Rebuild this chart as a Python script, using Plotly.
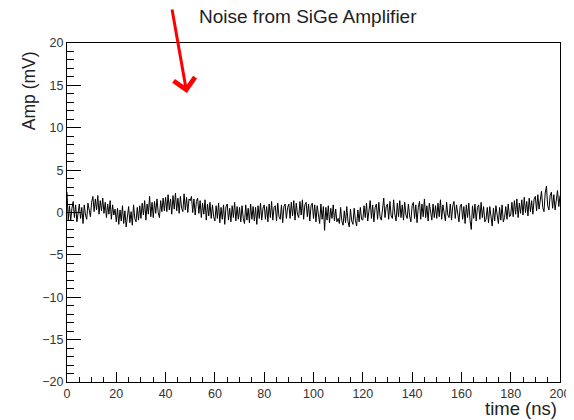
import plotly.graph_objects as go

# sampled noise trace, 0.5 ns per sample
SAMPLE_STEP_NS = 0.5
amp_mv = [
    2.4, -0.9, 0.8, -1.0, 0.5, 1.3, -0.6, 0.9, -1.1, 0.3, 1.0, -0.7, 0.6, -1.3, 0.9, -0.3, -0.8, 1.1, 0.4, -0.5,
    1.2, 1.9, 0.1, 1.6, 0.3, 2.0, -0.2, 1.4, 0.2, 1.7, -0.1, 1.2, -0.6, 1.0, -0.2, 1.4, -0.8, 0.9, -0.3, 0.4,
    -1.1, 0.5, -1.4, 0.3, -1.0, 0.8, -1.3, 0.2, -1.7, -0.2, 0.7, -1.2, 0.1, -1.5, 0.9, -0.7, -1.1, 0.6, -0.9, 0.8,
    -0.7, 1.1, -0.3, 1.4, -0.9, 1.0, -0.2, 1.9, -0.5, 1.2, -0.6, 1.3, -0.1, 1.6, 0.0, -0.6, 1.4, 0.1, 1.7, 0.2,
    1.8, 0.1, 2.1, 0.3, 1.6, -0.2, 2.0, 0.4, 2.3, 0.2, 1.7, -0.1, 1.9, 0.5, 0.1, 2.2, 0.3, 1.8, 0.0, 1.6,
    1.4, 1.9, 0.0, 1.6, -0.3, 1.3, 1.7, -0.1, 1.4, -0.6, 1.1, -0.2, 1.5, -0.9, 1.0, -0.4, 1.2, -0.7, 0.9, -0.5,
    -1.0, 0.8, -0.7, 1.1, -1.2, 0.6, -0.8, 0.9, -1.4, 0.7, 1.0, -0.9, 0.5, -1.1, 0.8, -0.6, 1.2, -1.0, 0.7, -0.8,
    0.6, -1.1, 0.8, -0.7, -1.3, 0.9, -0.9, 0.5, -1.2, 1.0, -0.8, 0.7, -1.0, 0.6, -1.4, 0.8, -0.7, 1.1, -0.9, 0.5,
    0.9, -0.8, 0.7, -1.1, 1.0, -0.6, 1.3, -0.9, 0.6, 0.8, -1.0, 1.1, -0.5, -0.8, 0.9, -1.2, 0.7, 1.0, -0.7, 0.6,
    1.0, -0.7, 1.2, -0.4, 1.4, -0.9, 1.1, -0.2, -0.6, 1.3, -0.3, 1.5, -0.8, 0.9, 1.2, -0.5, 1.0, -1.0, 0.8, 1.1,
    -0.7, 0.9, -1.1, 0.8, -0.5, -1.3, 1.0, -0.8, 0.7, -2.1, 0.6, -0.9, 0.8, -1.2, 0.5, -0.7, 0.9, -1.0, 0.4, -1.1,
    -0.7, -1.3, 0.6, -1.0, -1.5, 0.2, -1.2, 0.7, -1.1, -1.7, 0.4, -1.0, -1.4, 0.5, -0.9, -1.6, 0.3, -1.1, 0.6, -0.8,
    -0.9, 0.8, -0.6, 1.1, -1.0, 0.7, 1.4, -0.7, 0.9, -1.1, 0.6, 1.0, -0.8, 1.2, -0.5, -0.9, 0.8, 1.7, -0.6, 0.7,
    1.0, -0.8, 1.3, -0.4, -0.7, 1.5, -0.2, -1.0, 1.1, -0.5, 1.4, -0.6, 0.9, -0.9, 1.2, -0.3, -0.7, 1.0, -0.4, -1.1,
    0.8, 1.2, -0.7, 0.9, -1.2, 0.6, 1.3, -0.8, 1.0, -0.5, 1.6, -0.6, 0.8, -1.0, 1.1, -0.3, -0.9, 1.0, -0.6, 0.8,
    -0.7, 1.1, -0.5, 1.5, -0.8, 0.9, -0.4, -1.0, 1.2, -0.3, -0.6, 1.0, -0.9, 0.8, 1.3, -0.7, 0.9, -0.5, -1.1, 0.7,
    1.0, -0.8, 0.7, -1.3, 0.9, -0.6, 1.1, -0.9, -2.0, 0.8, -0.7, 1.0, -1.0, 0.6, 0.9, -0.8, 1.2, -0.6, 0.7, -1.1,
    -0.8, 0.6, -1.2, 0.7, -0.9, -1.6, 0.5, -1.0, 0.8, -0.7, -1.3, 0.6, -0.9, 0.9, -1.1, -0.6, 0.7, -0.8, 1.0, -0.5,
    -0.3, 1.2, -0.5, 1.4, -0.2, 1.6, -0.6, 1.1, -0.1, 1.5, -0.3, 1.8, 0.0, 1.3, -0.4, 1.7, 0.1, 1.4, -0.2, 1.6,
    1.9, 0.2, 2.1, 0.4, 1.7, 2.5, 0.6, 0.1, 2.3, 3.1, 0.8, 0.3, 2.0, 2.4, 0.5, 2.1, 0.3, 1.9, 2.6, 0.7,
    2.0,
]
time_ns = [i * SAMPLE_STEP_NS for i in range(len(amp_mv))]

X_RANGE = [0, 200]
Y_RANGE = [-20, 20]
TITLE = "Noise from SiGe Amplifier"
FONT = "Liberation Sans, Arial, sans-serif"

fig = go.Figure()
fig.add_trace(
    go.Scatter(
        x=time_ns,
        y=amp_mv,
        mode="lines",
        line=dict(color="black", width=1),
        showlegend=False,
        hoverinfo="skip",
    )
)

axis_common = dict(
    showgrid=False,
    zeroline=False,
    showline=True,
    linecolor="black",
    linewidth=1,
    mirror=True,
    ticks="inside",
    tickcolor="black",
    tickfont=dict(family=FONT, size=12.5, color="#333"),
)

fig.update_xaxes(
    range=X_RANGE,
    tick0=0,
    dtick=20,
    ticklen=10,
    minor=dict(ticks="inside", dtick=5, ticklen=5, tickcolor="black"),
    **axis_common,
)
fig.update_yaxes(
    range=Y_RANGE,
    tick0=-20,
    dtick=5,
    ticklen=14,
    ticklabelstandoff=0,
    minor=dict(ticks="inside", dtick=1, ticklen=7, tickcolor="black"),
    **axis_common,
)

# red arrow pointing at the trace
fig.add_annotation(
    x=0.243, y=0.8525, xref="paper", yref="paper",
    ax=-15, ay=-108, text="", showarrow=True,
    arrowhead=4, arrowsize=1.4, arrowwidth=3, arrowcolor="#ff0000",
)
fig.add_annotation(
    x=0.488, y=1.0, xref="paper", yref="paper", yanchor="middle", yshift=27,
    text=TITLE, showarrow=False,
    font=dict(family=FONT, size=19, color="#222"),
)
fig.add_annotation(
    x=1.0, y=0.0, xref="paper", yref="paper", xanchor="right", yanchor="middle",
    xshift=-1, yshift=-26,
    text="time (ns)", showarrow=False,
    font=dict(family=FONT, size=18.5, color="#222"),
)
fig.add_annotation(
    x=0.0, y=0.858, xref="paper", yref="paper", xanchor="center", yanchor="middle",
    xshift=-38, textangle=-90,
    text="Amp (mV)", showarrow=False,
    font=dict(family=FONT, size=17.5, color="#222"),
)

# page body has an 8 px margin, so the margins are shifted to line the frame up
fig.update_layout(
    width=574,
    height=420,
    margin=dict(l=59, r=19, t=35, b=46),
    paper_bgcolor="white",
    plot_bgcolor="white",
)

fig.write_html("out.html")
